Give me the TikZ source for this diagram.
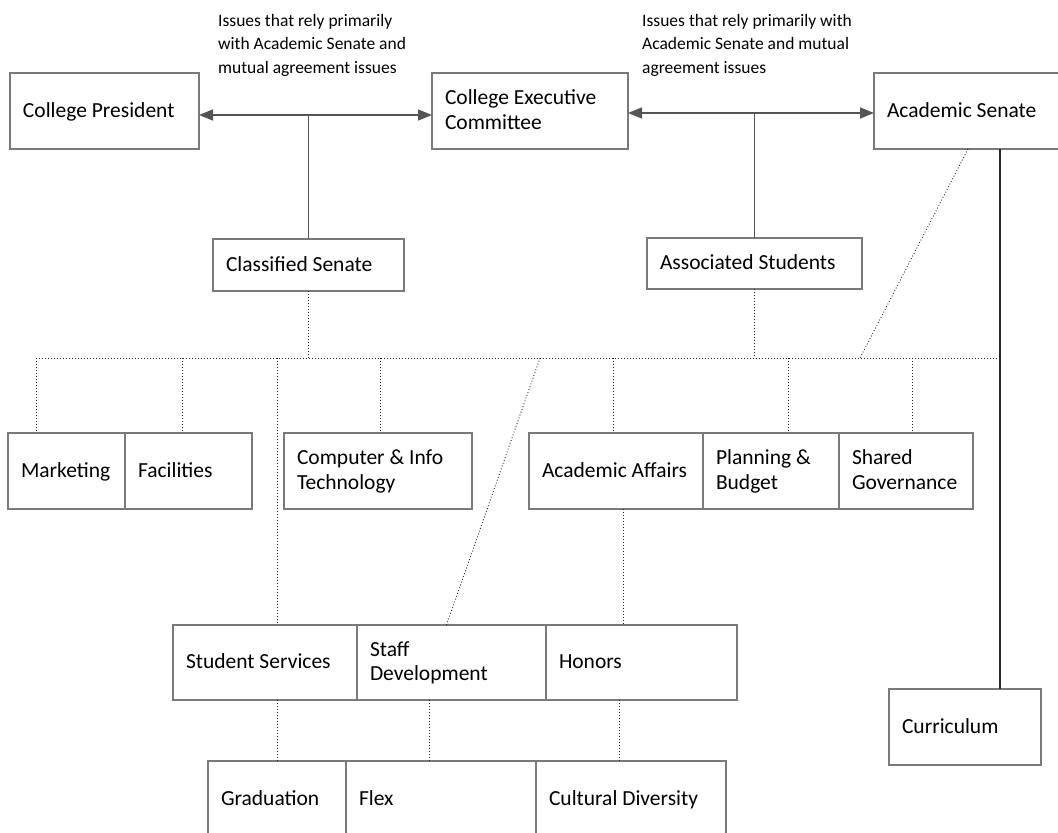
\documentclass[tikz,border=0pt]{standalone}
\usepackage{fontspec}
\setmainfont{Carlito}
\usetikzlibrary{arrows.meta}
\definecolor{boxgray}{HTML}{7A7A7A}
\definecolor{linegray}{HTML}{555555}
\newcommand{\boxstrut}{\rule[-4pt]{0pt}{20pt}}

\begin{document}
\begin{tikzpicture}
[x=1pt,y=-1pt,%
  boxDecorate/.style={shape=rectangle,draw=boxgray,line width=1.2pt,anchor=north west,align=flush left,inner xsep=13pt,inner ysep=0pt,outer sep=0pt},%
  lineDecorate/.style={-,draw=linegray,line width=1.5pt},%
  arrowDecorate/.style={{Triangle[length=14pt,width=11pt]}-{Triangle[length=14pt,width=11pt]},draw=linegray,fill=linegray,line width=1.5pt},%
  dotDecorate/.style={draw=black!85,line width=0.9pt,dash pattern=on 0.9pt off 2.1pt},%
  noteDecorate/.style={anchor=north west,align=flush left,inner sep=0pt,font=\fontsize{17.5}{23.5}\selectfont}]
\fontsize{21.5}{24.5}\selectfont
\useasboundingbox (0,0) rectangle (1058,833);
\clip (0,0) rectangle (1058,833);
%% boxes
\foreach \nodename/\xa/\ya/\xb/\yb/\txt in {
  pres/10/73/199/149/{College President},
  exec/432/73/628/149/{College Executive\\Committee},
  acsen/874/73/1062/149/{Academic Senate},
  classen/213/239/404/291/{Classified Senate},
  assoc/647/238/862/289/{Associated Students},
  mkt/8/433/125/509/{Marketing},
  fac/125/433/252/509/{Facilities},
  cit/284/433/472/509/{Computer \& Info\\Technology},
  acaff/529/433/703/509/{Academic Affairs},
  plan/703/433/839/509/{Planning \&\\Budget},
  shgov/839/433/973/509/{Shared\\Governance},
  stuserv/173/625/357/700/{Student Services},
  staffdev/357/625/546/700/{Staff\\Development},
  honors/546/625/737/700/{Honors},
  grad/208/761/346/837/{Graduation},
  flex/346/761/536/837/{Flex},
  culdiv/536/761/726/837/{Cultural Diversity},
  curric/889/689/1041/765/{Curriculum}}
{
  \node (\nodename) at (\xa,\ya) [boxDecorate,minimum width=(\xb-\xa)*1pt,minimum height=(\yb-\ya)*1pt,text width=(\xb-\xa-26)*1pt] {\boxstrut\txt\boxstrut};
}
%% notes
\node (noteleft) at (218,14) [noteDecorate] {Issues that rely primarily\\with Academic Senate and\\mutual agreement issues};
\node (noteright) at (642,14) [noteDecorate] {Issues that rely primarily with\\Academic Senate and mutual\\agreement issues};
%% solid connectors
\draw[arrowDecorate] ([yshift=-4pt]pres.east) -- ([yshift=-4pt]exec.west);
\draw[arrowDecorate] ([yshift=-2pt]exec.east) -- ([yshift=-2pt]acsen.west);
\draw[lineDecorate] ([yshift=-4pt]classen.north |- pres.east) -- (classen.north);
\draw[lineDecorate] ([yshift=-2pt]assoc.north |- exec.east) -- (assoc.north);
%% dotted bus
\coordinate (busL) at (36,358);
\coordinate (busR) at (1000,358);
\draw[dotDecorate] (busL) -- (busR);
\draw[dotDecorate] (classen.south) -- (classen.south |- busL);
\draw[dotDecorate] (assoc.south) -- (assoc.south |- busL);
\foreach \x/\target in {36/mkt, 182/fac, 277/stuserv, 380/cit, 613/acaff, 788/plan, 912/shgov}
{
  \coordinate (tap\target) at (\x,358);
  \draw[dotDecorate] (tap\target) -- (tap\target |- \target.north);
}
\coordinate (tapstaff) at (540,358);
\draw[dotDecorate] (tapstaff) -- ([xshift=-5pt]staffdev.north);
\coordinate (tapsenate) at (860,358);
\draw[dotDecorate] (acsen.south) -- (tapsenate);
\draw[line width=1.3pt,draw=black!85] (acsen.south -| busR) -- (busR |- curric.north);
%% lower levels
\draw[dotDecorate] ([xshift=7pt]acaff.south) -- ([xshift=7pt]acaff.south |- honors.north);
\draw[dotDecorate] (grad.north |- stuserv.south) -- (grad.north);
\draw[dotDecorate] ([xshift=-12pt]flex.north |- staffdev.south) -- ([xshift=-12pt]flex.north);
\draw[dotDecorate] ([xshift=-12pt]culdiv.north |- honors.south) -- ([xshift=-12pt]culdiv.north);
\end{tikzpicture}
\end{document}
